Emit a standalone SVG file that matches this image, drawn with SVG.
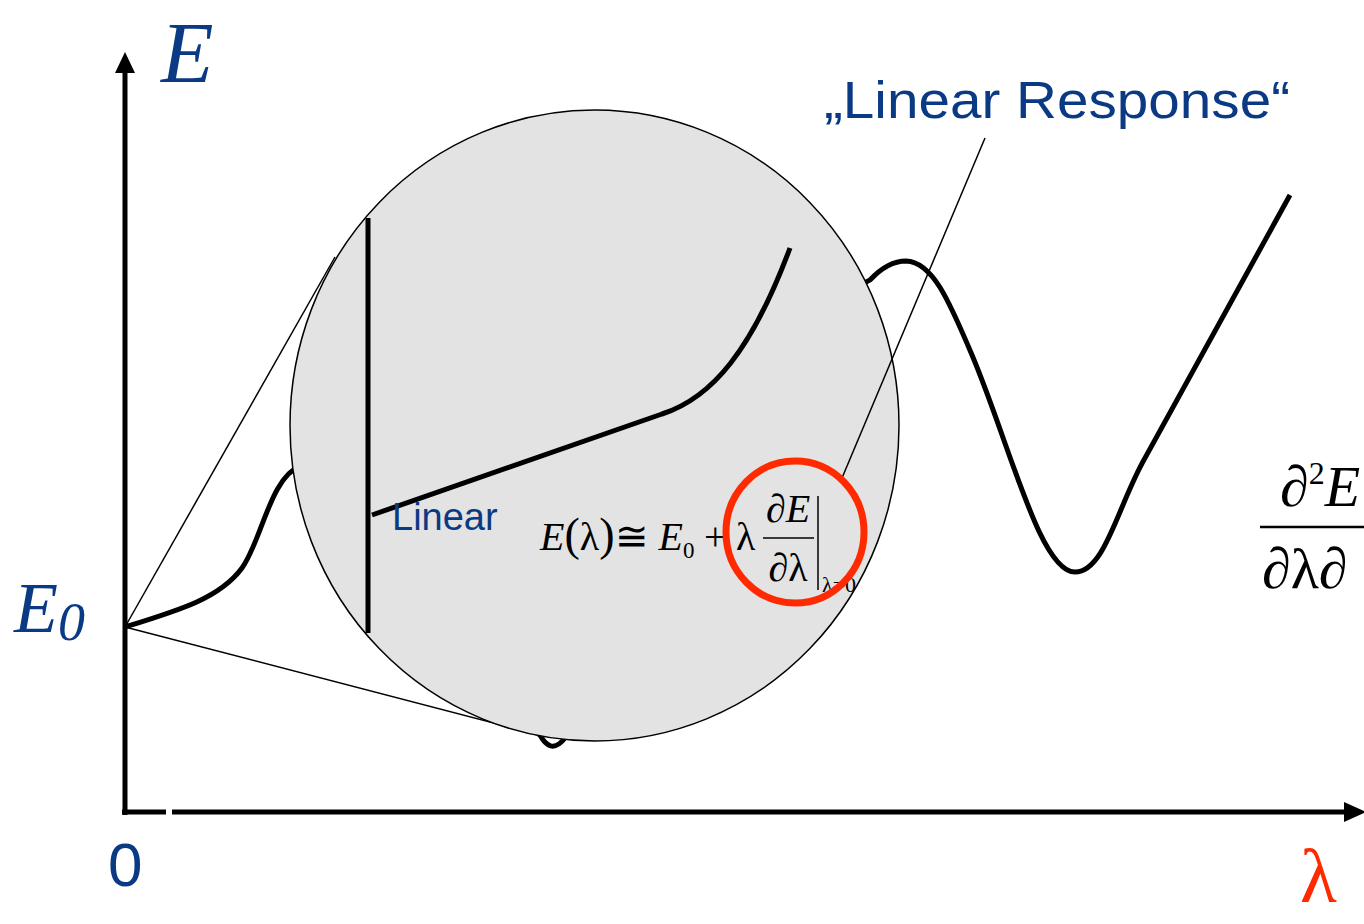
<svg xmlns="http://www.w3.org/2000/svg" width="1364" height="924" viewBox="0 0 1364 924">
<style>
.blue{fill:#0b3a84}
.it{font-family:"Liberation Serif","DejaVu Serif",serif;font-style:italic}
.tm{font-family:"Liberation Serif","DejaVu Serif",serif}
.sans{font-family:"Liberation Sans","DejaVu Sans",sans-serif}
.thick{fill:none;stroke:#000;stroke-width:5;stroke-linejoin:round}
.thin{fill:none;stroke:#000;stroke-width:1.5}
</style>
<rect width="1364" height="924" fill="#fff"/>
<g id="axes">
<line x1="125" y1="815" x2="125" y2="68" stroke="#000" stroke-width="5"/>
<polygon points="125,52 115,73 135,73" fill="#000"/>
<line x1="122" y1="812" x2="166" y2="812" stroke="#000" stroke-width="5"/>
<line x1="172" y1="812" x2="1348" y2="812" stroke="#000" stroke-width="5"/>
<polygon points="1366,812 1344,802 1344,822" fill="#000"/>
</g>
<g id="labels">
<text x="161" y="82" class="it blue" font-size="86">E</text>
<text x="14" y="632" class="it blue" font-size="72">E<tspan font-size="54" dy="8">0</tspan></text>
<text x="108" y="886" class="sans blue" font-size="62">0</text>
<text x="1300" y="902" class="tm" font-size="76" fill="#ff2a00">λ</text>
</g>
<g id="connectors">
<line class="thin" x1="125" y1="627" x2="335" y2="257"/>
<line class="thin" x1="125" y1="627" x2="540" y2="735"/>
<path class="thick" d="M125,627 C180,610 220,598 242,568 C262,540 270,478 300,466 C380,440 450,690 540,735 C546,746 554,752 565,738 C650,600 820,300 870,280 C885,264 897,261 906,261 C932,262 948,298 972,355 C1010,445 1040,572 1075,572 C1105,572 1118,505 1145,458 L1290,195"/>
</g>
<g id="zoom">
<ellipse cx="594.5" cy="425.5" rx="304.5" ry="315.5" fill="#e3e3e3" stroke="#000" stroke-width="1.5"/>
<line class="thick" x1="368" y1="218" x2="368" y2="633" stroke-linecap="butt"/>
<path class="thick" d="M372,515 L662,414 C712,398 752,350 790,248"/>
<text x="392" y="530" class="sans blue" font-size="38">Linear</text>
<g id="formula" class="tm" fill="#000">
<text x="540" y="550" font-size="40"><tspan font-style="italic">E</tspan><tspan font-size="46">(</tspan>λ<tspan font-size="46">)</tspan>≅ <tspan font-style="italic">E</tspan><tspan font-size="23" dy="8">0</tspan><tspan dy="-8" x="704">+</tspan><tspan x="736">λ</tspan></text>
<text x="788" y="522" font-size="40" text-anchor="middle">∂<tspan font-style="italic">E</tspan></text>
<line x1="763" y1="538" x2="814" y2="538" stroke="#000" stroke-width="1.5"/>
<text x="788" y="581" font-size="40" text-anchor="middle">∂λ</text>
<line x1="818" y1="496" x2="818" y2="590" stroke="#000" stroke-width="1.5"/>
<text x="822" y="592" font-size="22">λ=0</text>
</g>
</g>
<g id="linear-response">
<line class="thin" x1="985" y1="138" x2="842" y2="478"/>
<ellipse cx="795" cy="532" rx="69" ry="71" fill="none" stroke="#ff2a00" stroke-width="7"/>
<text x="824" y="118" class="sans blue" font-size="52" textLength="466" lengthAdjust="spacingAndGlyphs">„Linear Response“</text>
</g>
<g id="second-derivative" class="tm" fill="#000">
<text x="1280" y="506" font-size="58">∂<tspan font-size="32" dy="-22">2</tspan><tspan font-style="italic" dy="22">E</tspan></text>
<line x1="1260" y1="527" x2="1364" y2="527" stroke="#000" stroke-width="2.5"/>
<text x="1262" y="588" font-size="58">∂λ∂</text>
</g>
</svg>
